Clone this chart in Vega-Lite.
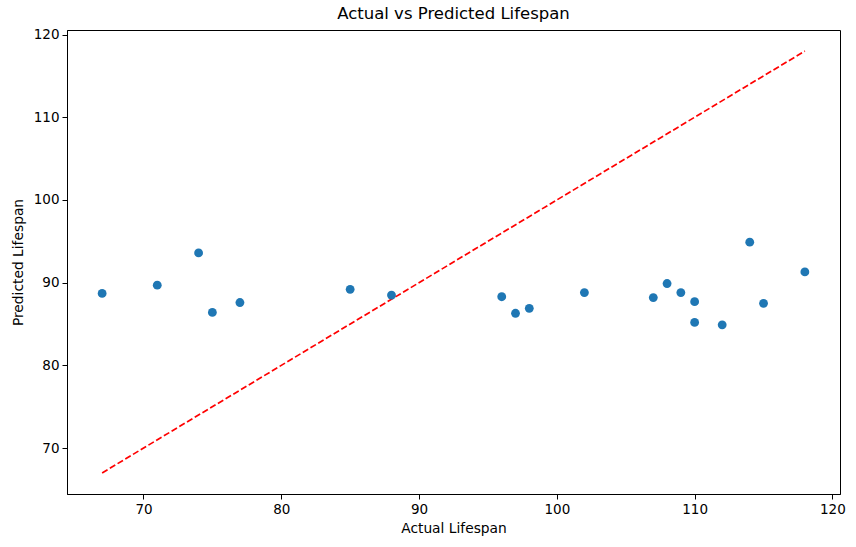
{
  "$schema": "https://vega.github.io/schema/vega-lite/v6.json",
  "width": 773,
  "height": 464,
  "autosize": {"type": "none"},
  "padding": {"left": 67, "top": 30, "right": 16, "bottom": 53},
  "background": "white",
  "config": {
    "font": "DejaVu Sans",
    "view": {"stroke": "black", "strokeWidth": 1},
    "axis": {
      "grid": false,
      "domainColor": "black",
      "tickColor": "black",
      "tickSize": 5,
      "labelColor": "black",
      "labelFontSize": 13.5,
      "labelPadding": 3,
      "titleColor": "black",
      "titleFontSize": 13.8,
      "titleFontWeight": "normal",
      "labelFont": "DejaVu Sans",
      "titleFont": "DejaVu Sans"
    },
    "title": {"fontSize": 16.5, "fontWeight": "normal", "font": "DejaVu Sans", "color": "black", "offset": 5}
  },
  "title": "Actual vs Predicted Lifespan",
  "datasets": {
    "points": [
      {"actual": 67, "predicted": 88.7},
      {"actual": 71, "predicted": 89.7},
      {"actual": 74, "predicted": 93.6},
      {"actual": 75, "predicted": 86.4},
      {"actual": 77, "predicted": 87.6},
      {"actual": 85, "predicted": 89.2},
      {"actual": 88, "predicted": 88.5},
      {"actual": 96, "predicted": 88.3},
      {"actual": 97, "predicted": 86.3},
      {"actual": 98, "predicted": 86.9},
      {"actual": 102, "predicted": 88.8},
      {"actual": 107, "predicted": 88.2},
      {"actual": 108, "predicted": 89.9},
      {"actual": 109, "predicted": 88.8},
      {"actual": 110, "predicted": 87.7},
      {"actual": 110, "predicted": 85.2},
      {"actual": 112, "predicted": 84.9},
      {"actual": 114, "predicted": 94.9},
      {"actual": 115, "predicted": 87.5},
      {"actual": 118, "predicted": 91.3}
    ],
    "diag": [
      {"actual": 67, "predicted": 67},
      {"actual": 118, "predicted": 118}
    ]
  },
  "layer": [
    {
      "data": {"name": "diag"},
      "mark": {"type": "line", "color": "red", "strokeWidth": 1.7, "strokeDash": [6.3, 2.7]},
      "encoding": {
        "x": {"field": "actual", "type": "quantitative", "scale": {"domain": [64.45, 120.55], "nice": false, "zero": false},
              "axis": {"values": [70, 80, 90, 100, 110, 120], "title": "Actual Lifespan", "titlePadding": 6}},
        "y": {"field": "predicted", "type": "quantitative", "scale": {"domain": [64.45, 120.55], "nice": false, "zero": false},
              "axis": {"values": [70, 80, 90, 100, 110, 120], "title": "Predicted Lifespan", "titlePadding": 8}}
      }
    },
    {
      "data": {"name": "points"},
      "mark": {"type": "circle", "color": "#1f77b4", "opacity": 1, "size": 78},
      "encoding": {
        "x": {"field": "actual", "type": "quantitative"},
        "y": {"field": "predicted", "type": "quantitative"}
      }
    }
  ]
}
